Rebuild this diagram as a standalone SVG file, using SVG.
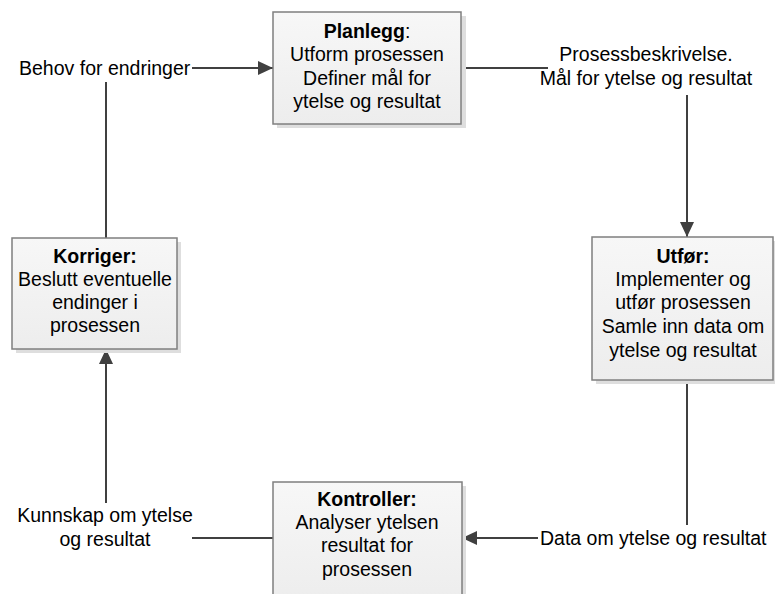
<svg xmlns="http://www.w3.org/2000/svg" width="775" height="594" viewBox="0 0 775 594">
  <defs>
    <linearGradient id="boxFill" x1="0" y1="0" x2="0" y2="1">
      <stop offset="0" stop-color="#f7f7f7"/>
      <stop offset="1" stop-color="#ededed"/>
    </linearGradient>
    <marker id="arrow" markerUnits="userSpaceOnUse" markerWidth="16" markerHeight="14" refX="15" refY="7" orient="auto">
      <path d="M0,0 L15,7 L0,14 Z" fill="#404040"/>
    </marker>
    <style>
      text { font-family: "Liberation Sans", Arial, sans-serif; font-size: 19.5px; fill: #000; }
      .c { text-anchor: middle; }
      .b { font-weight: bold; }
      .box { fill: url(#boxFill); stroke: #7f7f7f; stroke-width: 1.5; }
      .shadow { fill: #dedede; }
      .line { fill: none; stroke: #404040; stroke-width: 2; }
    </style>
  </defs>
  <rect width="775" height="594" fill="#ffffff"/>

  <!-- connectors -->
  <g id="connectors">
    <path class="line" d="M192,68 H273" marker-end="url(#arrow)"/>
    <path class="line" d="M461,68 H548"/>
    <path class="line" d="M687,95 V237" marker-end="url(#arrow)"/>
    <path class="line" d="M687,380 V525"/>
    <path class="line" d="M538,538 H462" marker-end="url(#arrow)"/>
    <path class="line" d="M273,538 H192"/>
    <path class="line" d="M106,503 V349" marker-end="url(#arrow)"/>
    <path class="line" d="M106,238 V82"/>
  </g>

  <!-- process steps -->
  <g id="planlegg">
    <rect class="shadow" x="277" y="16" width="189" height="112"/>
    <rect class="box" x="273" y="12" width="188" height="112"/>
    <text class="c" x="367" y="38"><tspan class="b">Planlegg</tspan>:</text>
    <text class="c" x="367" y="61">Utform prosessen</text>
    <text class="c" x="367" y="85">Definer mål for</text>
    <text class="c" x="367" y="108">ytelse og resultat</text>
  </g>

  <g id="utfor">
    <rect class="shadow" x="596" y="241" width="181" height="143"/>
    <rect class="box" x="592" y="237" width="181" height="143"/>
    <text class="c b" x="683" y="263">Utfør:</text>
    <text class="c" x="683" y="286">Implementer og</text>
    <text class="c" x="683" y="309">utfør prosessen</text>
    <text class="c" x="683" y="333">Samle inn data om</text>
    <text class="c" x="683" y="357">ytelse og resultat</text>
  </g>

  <g id="kontroller">
    <rect class="shadow" x="277" y="486" width="189" height="120"/>
    <rect class="box" x="273" y="482" width="189" height="120"/>
    <text class="c b" x="367" y="506">Kontroller:</text>
    <text class="c" x="367" y="529">Analyser ytelsen</text>
    <text class="c" x="367" y="552">resultat for</text>
    <text class="c" x="367" y="576">prosessen</text>
  </g>

  <g id="korriger">
    <rect class="shadow" x="16" y="242" width="165" height="111"/>
    <rect class="box" x="12" y="238" width="165" height="111"/>
    <text class="c b" x="95" y="263">Korriger:</text>
    <text class="c" x="95" y="286">Beslutt eventuelle</text>
    <text class="c" x="95" y="309">endinger i</text>
    <text class="c" x="95" y="332">prosessen</text>
  </g>

  <!-- flow labels -->
  <g id="label-behov">
    <text x="19" y="75">Behov for endringer</text>
  </g>
  <g id="label-prosess">
    <text class="c" x="646" y="61">Prosessbeskrivelse.</text>
    <text class="c" x="646" y="85">Mål for ytelse og resultat</text>
  </g>
  <g id="label-data">
    <text x="540" y="545">Data om ytelse og resultat</text>
  </g>
  <g id="label-kunnskap">
    <text class="c" x="105" y="522">Kunnskap om ytelse</text>
    <text class="c" x="105" y="546">og resultat</text>
  </g>
</svg>
